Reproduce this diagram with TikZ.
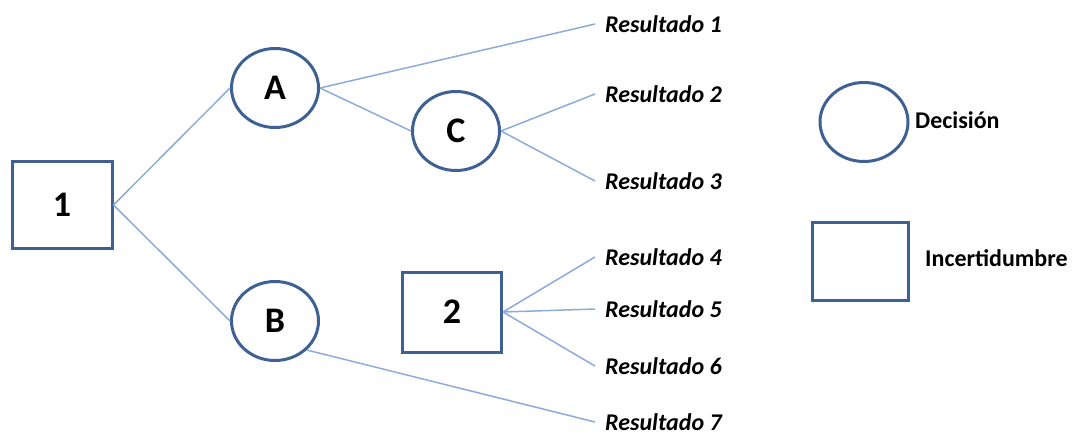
\documentclass[tikz,border=0pt]{standalone}
\usepackage{fontspec}
\setmainfont{Carlito}
\usetikzlibrary{shapes.geometric}

\definecolor{nodeblue}{RGB}{62,96,146}
\definecolor{lineblue}{RGB}{140,172,215}

\begin{document}
\begin{tikzpicture}[x=1pt,y=-1pt]

\tikzset{
dec/.style={ellipse,draw=nodeblue,line width=3pt,minimum width=87pt,minimum height=79pt,inner sep=0pt,font=\fontsize{36}{40}\selectfont\bfseries},
unc/.style={rectangle,draw=nodeblue,line width=3pt,inner sep=0pt,font=\fontsize{36}{40}\selectfont\bfseries},
branch/.style={draw=lineblue,line width=1.5pt},
res/.style={anchor=west,inner xsep=10pt,inner ysep=1pt,font=\fontsize{24}{26}\selectfont\bfseries\itshape},
leg/.style={anchor=west,inner sep=0pt,font=\fontsize{24}{26}\selectfont\bfseries}
}

\useasboundingbox (0,0) rectangle (1072,437);

% Nodes
\node[unc,minimum width=100pt,minimum height=87pt] (sq1) at (62,205) {1};
\node[dec] (circA) at (275,88) {A};
\node[dec] (circB) at (275,321) {B};
\node[dec] (circC) at (456,131) {C};
\node[unc,minimum width=99pt,minimum height=80pt] (sq2) at (452,312) {2};

\node[res] (res1) at (595,24) {Resultado 1};
\node[res] (res2) at (595,94) {Resultado 2};
\node[res] (res3) at (595,181) {Resultado 3};
\node[res] (res4) at (595,257) {Resultado 4};
\node[res] (res5) at (595,309) {Resultado 5};
\node[res] (res6) at (595,366) {Resultado 6};
\node[res] (res7) at (595,422) {Resultado 7};

% Lines
\draw[branch] (sq1.east) -- (circA.west);
\draw[branch] (sq1.east) -- (circB.west);
\draw[branch] (circA.east) -- (res1.west);
\draw[branch] (circA.east) -- (circC.west);
\draw[branch] (circC.east) -- (res2.west);
\draw[branch] (circC.east) -- (res3.west);
\draw[branch] (sq2.east) -- (res4.west);
\draw[branch] (sq2.east) -- (res5.west);
\draw[branch] (sq2.east) -- (res6.west);
\draw[branch] (circB.south east) -- (res7.west);

% Legend
\node[dec,minimum width=88pt] (legcirc) at (864,122) {};
\node[leg] (labdec) at (915,120) {Decisión};
\node[unc,minimum width=96pt,minimum height=78pt] (legsq) at (860,261) {};
\node[leg] (labinc) at (925,258) {Incertidumbre};

\end{tikzpicture}
\end{document}
